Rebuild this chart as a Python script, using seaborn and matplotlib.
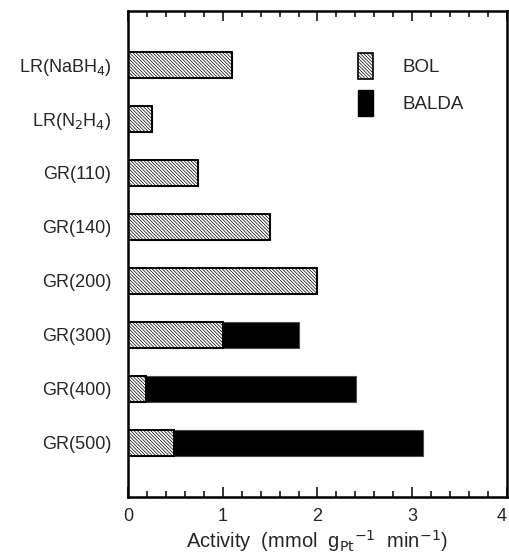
import pandas as pd
import matplotlib.pyplot as plt
import seaborn as sns
from matplotlib.patches import Patch
from matplotlib.ticker import MultipleLocator

sns.set_style("white")
plt.rcParams['font.family'] = ['Liberation Sans', 'DejaVu Sans']
plt.rcParams['hatch.color'] = '0.45'
plt.rcParams['hatch.linewidth'] = 0.5

catalisadores = ['LR(NaBH$_4$)', 'LR(N$_2$H$_4$)', 'GR(110)', 'GR(140)',
                 'GR(200)', 'GR(300)', 'GR(400)', 'GR(500)']
bol = [1.1, 0.25, 0.74, 1.5, 2.0, 1.0, 0.19, 0.49]
balda = [0, 0, 0, 0, 0, 0.8, 2.22, 2.62]
xticks = [0, 1, 2, 3, 4]

df = pd.DataFrame({'cat': catalisadores, 'BOL': bol, 'BALDA': balda})
df['total'] = df['BOL'] + df['BALDA']

hachura = '\\' * 10

fig = plt.figure(figsize=(5.1, 5.53), dpi=100)
ax = fig.add_axes([0.251, 0.1013, 0.743, 0.879])

sns.barplot(x='total', y='cat', data=df, orient='h', color='black',
            saturation=1, width=0.48, edgecolor='0.3', linewidth=0.8, ax=ax)
sns.barplot(x='BOL', y='cat', data=df, orient='h', color='white',
            saturation=1, width=0.48, edgecolor='black', linewidth=1.4,
            hatch=hachura, ax=ax)

ax.set_xlim(0, 4)
ax.set_ylim(8, -1)
ax.set_xticks(xticks)
rotulos = ax.set_xticklabels([str(t) for t in xticks])
rotulos[-1].set_horizontalalignment('right')
ax.xaxis.set_minor_locator(MultipleLocator(0.2))
ax.tick_params(axis='x', which='both', direction='in', top=True, bottom=True,
               width=1.3, labelsize=13, pad=8)
ax.tick_params(axis='x', which='major', length=7)
ax.tick_params(axis='x', which='minor', length=4)
ax.tick_params(axis='y', length=0, labelsize=13, pad=12)
for s in ax.spines.values():
    s.set_linewidth(1.8)
    s.set_color('black')

ax.set_ylabel('')
ax.set_xlabel(r'Activity  (mmol  g$_{\rm Pt}$$^{-1}$  min$^{-1}$)', fontsize=14.5, labelpad=2)

handles = [Patch(facecolor='white', edgecolor='black', hatch=hachura, linewidth=1.2, label='BOL'),
           Patch(facecolor='black', edgecolor='black', label='BALDA')]
ax.legend(handles=handles, loc='upper left', bbox_to_anchor=(0.562, 0.948),
          frameon=False, fontsize=13.5, handlelength=0.8, handleheight=1.75,
          handletextpad=1.6, labelspacing=0.6)

fig.savefig('out.png', dpi=100)
